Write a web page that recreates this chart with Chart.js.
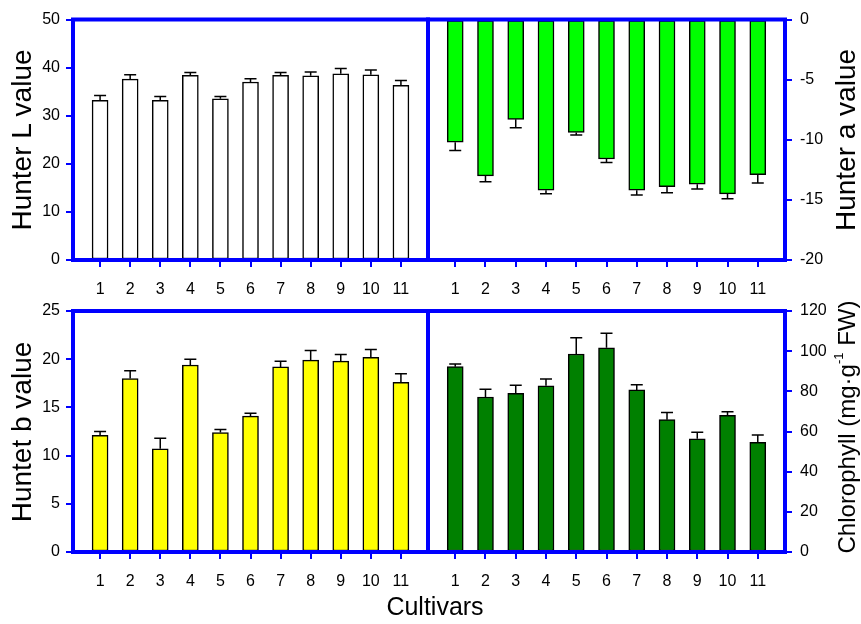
<!DOCTYPE html>
<html>
<head>
<meta charset="utf-8">
<script src="https://cdn.jsdelivr.net/npm/chart.js@4.4.1/dist/chart.umd.min.js"></script>
<style>
  html, body { margin: 0; padding: 0; background: #fff; }
  #wrap { position: relative; width: 861px; height: 624px; overflow: hidden;
          font-family: "Liberation Sans", Arial, sans-serif; color: #000; }
  #wrap canvas { position: absolute; left: 0; top: 0; }
  .ytitle { position: absolute; white-space: nowrap; line-height: 1;
            transform: translate(-50%, -50%) rotate(-90deg); }
  .xtitle { position: absolute; white-space: nowrap; line-height: 1;
            transform: translate(-50%, 0); }
  sup { font-size: 13px; position: relative; top: -0.25em; vertical-align: top; }
</style>
</head>
<body>
<div id="wrap">
  <canvas id="panelL" width="861" height="624"></canvas>
  <canvas id="panelA" width="861" height="624"></canvas>
  <canvas id="panelB" width="861" height="624"></canvas>
  <canvas id="panelChl" width="861" height="624"></canvas>

  <div class="ytitle" style="left:22px; top:140px; font-size:28px;">Hunter L value</div>
  <div class="ytitle" style="left:846px; top:140px; font-size:28px;">Hunter a value</div>
  <div class="ytitle" style="left:22px; top:432px; font-size:28px;">Huntet b value</div>
  <div class="ytitle" style="left:847px; top:427px; font-size:24px;">Chlorophyll (mg·g<sup>-1</sup> FW)</div>
  <div class="xtitle" style="left:435px; top:594px; font-size:25px;">Cultivars</div>
</div>

<script>
// Cultivar numbers along every x axis
const cultivars = [1, 2, 3, 4, 5, 6, 7, 8, 9, 10, 11];

// Hunter L (lightness)
const hunterL    = [33.2, 37.6, 33.2, 38.4, 33.5, 37.0, 38.4, 38.3, 38.7, 38.5, 36.3];
const hunterLErr = [1.0, 0.9, 0.8, 0.6, 0.5, 0.7, 0.6, 0.8, 1.1, 1.0, 1.0];

// Hunter a (green-red)
const hunterA    = [-10.2, -13.0, -8.3, -14.2, -9.4, -11.6, -14.2, -13.9, -13.7, -14.5, -12.9];
const hunterAErr = [0.7, 0.5, 0.7, 0.3, 0.2, 0.3, 0.4, 0.5, 0.4, 0.4, 0.7];

// Hunter b (blue-yellow)
const hunterB    = [12.1, 18.0, 10.7, 19.4, 12.4, 14.1, 19.2, 19.9, 19.8, 20.2, 17.6];
const hunterBErr = [0.4, 0.8, 1.1, 0.6, 0.3, 0.3, 0.6, 1.0, 0.7, 0.8, 0.9];

// Chlorophyll content
const chlorophyll    = [92.3, 77.2, 79.0, 82.8, 98.6, 101.7, 80.7, 65.9, 56.4, 68.0, 54.6];
const chlorophyllErr = [1.3, 3.8, 4.0, 3.3, 8.1, 7.2, 2.6, 3.6, 3.2, 1.8, 3.7];

const PAGE_W = 861, PAGE_H = 624;
const BLUE = '#0000FF';
const FONT = { family: '"Liberation Sans", Arial, sans-serif', size: 16 };

// Blue box around the plotting area
const framePlugin = {
  id: 'frame',
  afterDraw(chart) {
    const { ctx, chartArea: a } = chart;
    ctx.save();
    ctx.strokeStyle = BLUE;
    ctx.lineWidth = 4;
    ctx.strokeRect(a.left, a.top, a.right - a.left, a.bottom - a.top);
    ctx.restore();
  }
};

// One-sided error bars (away from zero), capped
const errorBarPlugin = {
  id: 'errorBars',
  afterDatasetsDraw(chart, args, opts) {
    const errs = opts.errors || [];
    const vals = chart.data.datasets[0].data;
    const { ctx, scales: { x, y } } = chart;
    ctx.save();
    ctx.strokeStyle = '#000';
    ctx.lineWidth = 1.5;
    vals.forEach((pt, i) => {
      const px = x.getPixelForValue(pt.x);
      const sign = pt.y < 0 ? -1 : 1;
      const y0 = y.getPixelForValue(pt.y);
      const y1 = y.getPixelForValue(pt.y + sign * errs[i]);
      ctx.beginPath();
      ctx.moveTo(px, y0);
      ctx.lineTo(px, y1);
      ctx.moveTo(px - 6, y1);
      ctx.lineTo(px + 6, y1);
      ctx.stroke();
    });
    ctx.restore();
  }
};

function makePanel(id, values, errors, fill, yMin, yMax, yStep, side, area) {
  const yAxisW = side === 'left' ? area.left : 60;
  const xAxisH = 40;
  const padding = side === 'left'
    ? { left: 0, right: PAGE_W - area.right, top: area.top, bottom: PAGE_H - area.bottom - xAxisH }
    : { left: area.left, right: PAGE_W - area.right - yAxisW, top: area.top, bottom: PAGE_H - area.bottom - xAxisH };

  return new Chart(document.getElementById(id), {
    type: 'bar',
    data: {
      datasets: [{
        data: cultivars.map((c, i) => ({ x: c, y: values[i] })),
        backgroundColor: fill,
        borderColor: '#000',
        borderWidth: 1.5,
        barThickness: 16,
        borderSkipped: false
      }]
    },
    options: {
      responsive: false,
      animation: false,
      devicePixelRatio: 1,
      layout: { padding },
      plugins: {
        legend: { display: false },
        tooltip: { enabled: false },
        errorBars: { errors }
      },
      scales: {
        x: {
          type: 'linear',
          position: 'bottom',
          offset: false,
          min: 0.1,
          max: 11.9,
          afterBuildTicks(scale) { scale.ticks = cultivars.map(v => ({ value: v })); },
          afterFit(scale) { scale.height = xAxisH; },
          grid: { offset: false, drawOnChartArea: false, drawTicks: true, tickLength: 7, color: BLUE, lineWidth: 2 },
          border: { display: false },
          ticks: { color: '#000', font: FONT, padding: 13, autoSkip: false, maxRotation: 0,
                   callback: v => String(v) }
        },
        y: {
          type: 'linear',
          position: side,
          min: yMin,
          max: yMax,
          afterFit(scale) { scale.width = yAxisW; },
          grid: { drawOnChartArea: false, drawTicks: true, tickLength: 7, color: BLUE, lineWidth: 2 },
          border: { display: false },
          ticks: { color: '#000', font: FONT, padding: side === 'left' ? 6 : 8, stepSize: yStep }
        }
      }
    },
    plugins: [errorBarPlugin, framePlugin]
  });
}

makePanel('panelL', hunterL, hunterLErr, '#FFFFFF', 0, 50, 10, 'left',
          { left: 73, right: 428, top: 19.5, bottom: 260 });
makePanel('panelA', hunterA, hunterAErr, '#00FF00', -20, 0, 5, 'right',
          { left: 428, right: 785, top: 19.5, bottom: 260 });
makePanel('panelB', hunterB, hunterBErr, '#FFFF00', 0, 25, 5, 'left',
          { left: 73, right: 428, top: 311, bottom: 552 });
makePanel('panelChl', chlorophyll, chlorophyllErr, '#008000', 0, 120, 20, 'right',
          { left: 428, right: 785, top: 311, bottom: 552 });
</script>
</body>
</html>
